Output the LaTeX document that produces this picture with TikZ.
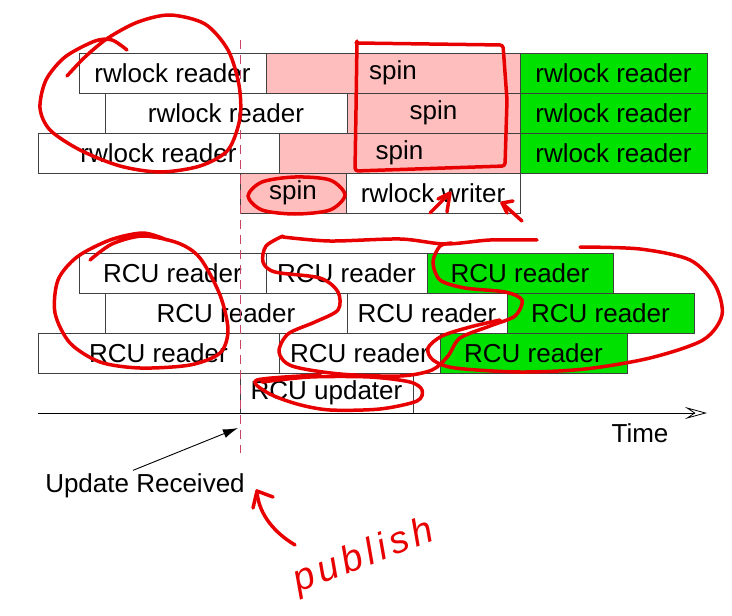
\documentclass[tikz,border=0pt]{standalone}
\usepackage{fontspec}
\setmainfont{Liberation Sans}
\usetikzlibrary{arrows.meta,calc}
\definecolor{spinpink}{RGB}{255,190,190}
\definecolor{lockgreen}{RGB}{0,225,0}
\definecolor{inkred}{RGB}{232,0,0}
\definecolor{marker}{RGB}{200,70,100}
\tikzset{
  slot/.style={
    draw=black!75,
    line width=0.8pt,
    minimum height=40pt,
    inner sep=0pt,
    outer sep=0pt
  },
  ink/.style={
    draw=inkred,
    line width=3.5pt,
    line cap=round,
    line join=round
  },
  every picture/.style = {
    font=\fontsize{26}{28}\selectfont
  }
}

\begin{document}
\begin{tikzpicture}[x=1pt,y=-1pt]
    \useasboundingbox (0,0) rectangle (732,616);
    % rwlock
    \foreach \n/\l/\r/\t/\f/\txt in {
        ra/79/266/53/white/rwlock reader, sa/266/520/53/spinpink/spin, ga/520/707/53/lockgreen/rwlock reader,
        rb/105/347/93/white/rwlock reader, sb/347/520/93/spinpink/spin, gb/520/707/93/lockgreen/rwlock reader,
        rc/38/279/133/white/rwlock reader, sc/279/520/133/spinpink/spin, gc/520/707/133/lockgreen/rwlock reader,
        sd/240/346/173/spinpink/spin, wd/346/520/173/white/rwlock writer}{
            \node[slot,fill=\f,minimum width={\r pt-\l pt}] (\n) at ({(\l+\r)/2},{\t+20}) {\txt};
        }
    % RCU
    \foreach \n/\l/\r/\t/\f/\txt in {
        ua/79/266/253/white/RCU reader, va/266/427/253/white/RCU reader, ha/427/613/253/lockgreen/RCU reader,
        ub/105/347/293/white/RCU reader, vb/347/507/293/white/RCU reader, hb/507/694/293/lockgreen/RCU reader,
        uc/38/279/333/white/RCU reader, vc/279/440/333/white/RCU reader, hc/440/627/333/lockgreen/RCU reader,
        ud/240/413/373/white/RCU updater}{
            \node[slot,fill=\f,minimum width={\r pt-\l pt}] (\n) at ({(\l+\r)/2},{\t+20}) {\txt};
        }
    \coordinate (t0) at (38,413);
    \coordinate (t1) at (707,413);
    \draw[line width=0.8pt,-{Stealth[open,length=22pt,width=12pt,inset=9pt]}] (t0) -- (t1);
    \node (time) at (640,433) {Time};
    \coordinate (rtop) at (240,40);
    \coordinate (rbot) at (240,453);
    \coordinate (hit) at (238,428);
    \draw[marker,line width=0.9pt,dash pattern=on 9pt off 6pt] (rtop) -- (rbot);
    \node (recv) at (145,486) {Update Received};
    \draw[line width=0.9pt,-{Latex[length=15pt,width=9pt]}] ([xshift=-12pt]recv.north) -- (hit);
    % hand notes
    \draw[ink] plot[smooth] coordinates {(67,76) (85,57) (108,38) (138,22) (170,15) (205,24) (228,50) (239,85) (240,118) (228,150) (200,166) (160,172) (120,166) (80,150) (50,130) (40,108) (46,80) (65,57) (95,41) (112,40) (127,50)};
    \draw[ink,rounded corners=3pt] (356,43) -- (503,45) -- (507,100) -- (505,166) -- (355,171) -- (356,110) -- (357,41);
    \draw[ink] plot[smooth cycle] coordinates {(248,196) (262,182) (295,177) (330,180) (345,195) (330,210) (295,214) (262,210)};
    \draw[ink] (430,213) -- (449,194);
    \draw[ink] (438,199) -- (450,193) -- (447,212);
    \draw[ink] (522,221) -- (502,203);
    \draw[ink] (513,201) -- (502,203) -- (507,213);
    \draw[ink] plot[smooth] coordinates {(90,260) (112,244) (143,236) (178,243) (200,258) (220,295) (228,330) (220,353) (190,365) (140,368) (100,362) (70,343) (55,313) (58,280) (77,257) (110,240) (143,233) (167,240)};
    \draw[ink] plot[smooth] coordinates {(283,236) (266,246) (263,262) (275,272) (320,278) (338,292) (338,310) (315,322) (288,334) (279,352) (292,366) (340,374) (400,376) (432,370) (448,356) (460,338) (490,326) (515,316) (522,300) (505,292) (465,288) (440,280) (433,262) (440,246) (452,243)};
    \draw[ink] plot[smooth] coordinates {(283,237) (330,241) (400,239) (445,244) (490,240) (537,240)};
    \draw[ink] plot[smooth] coordinates {(580,247) (640,249) (690,260) (715,285) (722,315) (703,340) (650,358) (585,369) (520,372) (455,368) (433,360) (428,348) (442,336) (470,327) (500,320)};
    \draw[ink] plot[smooth] coordinates {(320,375) (257,380) (268,393) (297,404) (330,410) (380,409) (417,401) (422,390) (410,382) (370,377) (310,377) (262,382)};
    \draw[ink] (295,545) .. controls (270,530) and (258,510) .. (257,491);
    \draw[ink] (253,508) -- (257,491) -- (273,497);
    \node[text=inkred,rotate=21,font=\fontsize{38}{38}\selectfont\itshape\addfontfeatures{LetterSpace=12}] (publish) at (364,557) {publish};
\end{tikzpicture}
\end{document}
